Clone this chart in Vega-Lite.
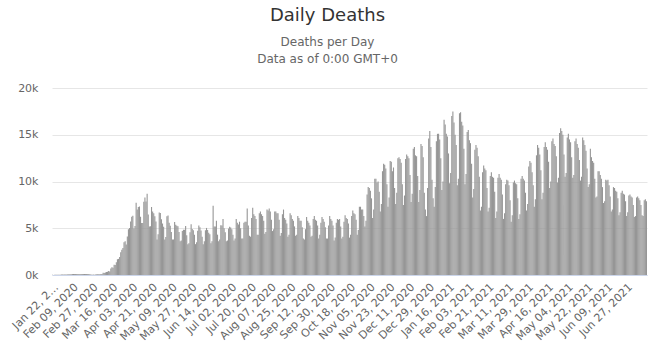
{
"$schema": "https://vega.github.io/schema/vega-lite/v6.json",
"width": 595, "height": 187,
"autosize": {"type": "none"},
"padding": {"left": 52, "top": 88, "right": 9, "bottom": 80},
"background": "white",
"title": {"text": "Daily Deaths", "subtitle": ["Deaths per Day", "Data as of 0:00 GMT+0"], "anchor": "middle", "frame": "group", "dx": -22, "offset": 17, "fontSize": 18, "font": "DejaVu Sans", "fontWeight": "normal", "color": "#333333", "subtitleFont": "DejaVu Sans", "subtitleFontSize": 12, "subtitleColor": "#666666", "subtitlePadding": 12, "subtitleLineHeight": 17},
"data": {"values": [
{"date":"Jan 22, 2020","deaths":17},{"date":"Jan 23, 2020","deaths":8},{"date":"Jan 24, 2020","deaths":16},{"date":"Jan 25, 2020","deaths":15},{"date":"Jan 26, 2020","deaths":24},{"date":"Jan 27, 2020","deaths":26},{"date":"Jan 28, 2020","deaths":26},{"date":"Jan 29, 2020","deaths":38},{"date":"Jan 30, 2020","deaths":43},{"date":"Jan 31, 2020","deaths":46},
{"date":"Feb 01, 2020","deaths":45},{"date":"Feb 02, 2020","deaths":57},{"date":"Feb 03, 2020","deaths":64},{"date":"Feb 04, 2020","deaths":66},{"date":"Feb 05, 2020","deaths":73},{"date":"Feb 06, 2020","deaths":73},{"date":"Feb 07, 2020","deaths":86},{"date":"Feb 08, 2020","deaths":89},{"date":"Feb 09, 2020","deaths":97},{"date":"Feb 10, 2020","deaths":108},
{"date":"Feb 11, 2020","deaths":97},{"date":"Feb 12, 2020","deaths":110},{"date":"Feb 13, 2020","deaths":105},{"date":"Feb 14, 2020","deaths":110},{"date":"Feb 15, 2020","deaths":108},{"date":"Feb 16, 2020","deaths":106},{"date":"Feb 17, 2020","deaths":98},{"date":"Feb 18, 2020","deaths":105},{"date":"Feb 19, 2020","deaths":100},{"date":"Feb 20, 2020","deaths":104},
{"date":"Feb 21, 2020","deaths":100},{"date":"Feb 22, 2020","deaths":99},{"date":"Feb 23, 2020","deaths":97},{"date":"Feb 24, 2020","deaths":106},{"date":"Feb 25, 2020","deaths":71},{"date":"Feb 26, 2020","deaths":52},{"date":"Feb 27, 2020","deaths":29},{"date":"Feb 28, 2020","deaths":44},{"date":"Feb 29, 2020","deaths":37},
{"date":"Mar 01, 2020","deaths":58},{"date":"Mar 02, 2020","deaths":67},{"date":"Mar 03, 2020","deaths":72},{"date":"Mar 04, 2020","deaths":84},{"date":"Mar 05, 2020","deaths":80},{"date":"Mar 06, 2020","deaths":102},{"date":"Mar 07, 2020","deaths":105},{"date":"Mar 08, 2020","deaths":228},{"date":"Mar 09, 2020","deaths":206},{"date":"Mar 10, 2020","deaths":273},
{"date":"Mar 11, 2020","deaths":331},{"date":"Mar 12, 2020","deaths":348},{"date":"Mar 13, 2020","deaths":437},{"date":"Mar 14, 2020","deaths":368},{"date":"Mar 15, 2020","deaths":687},{"date":"Mar 16, 2020","deaths":833},{"date":"Mar 17, 2020","deaths":781},{"date":"Mar 18, 2020","deaths":1088},{"date":"Mar 19, 2020","deaths":1072},{"date":"Mar 20, 2020","deaths":1366},
{"date":"Mar 21, 2020","deaths":1692},{"date":"Mar 22, 2020","deaths":1723},{"date":"Mar 23, 2020","deaths":1913},{"date":"Mar 24, 2020","deaths":2446},{"date":"Mar 25, 2020","deaths":2703},{"date":"Mar 26, 2020","deaths":2875},{"date":"Mar 27, 2020","deaths":3509},{"date":"Mar 28, 2020","deaths":3609},{"date":"Mar 29, 2020","deaths":3270},{"date":"Mar 30, 2020","deaths":4118},{"date":"Mar 31, 2020","deaths":4885},
{"date":"Apr 01, 2020","deaths":5029},{"date":"Apr 02, 2020","deaths":5735},{"date":"Apr 03, 2020","deaths":6218},{"date":"Apr 04, 2020","deaths":6339},{"date":"Apr 05, 2020","deaths":4977},{"date":"Apr 06, 2020","deaths":5244},{"date":"Apr 07, 2020","deaths":7740},{"date":"Apr 08, 2020","deaths":6993},{"date":"Apr 09, 2020","deaths":7283},{"date":"Apr 10, 2020","deaths":7336},
{"date":"Apr 11, 2020","deaths":6231},{"date":"Apr 12, 2020","deaths":5550},{"date":"Apr 13, 2020","deaths":5570},{"date":"Apr 14, 2020","deaths":7846},{"date":"Apr 15, 2020","deaths":8300},{"date":"Apr 16, 2020","deaths":7862},{"date":"Apr 17, 2020","deaths":8700},{"date":"Apr 18, 2020","deaths":6460},{"date":"Apr 19, 2020","deaths":5190},{"date":"Apr 20, 2020","deaths":5207},
{"date":"Apr 21, 2020","deaths":7274},{"date":"Apr 22, 2020","deaths":6797},{"date":"Apr 23, 2020","deaths":6609},{"date":"Apr 24, 2020","deaths":6284},{"date":"Apr 25, 2020","deaths":5713},{"date":"Apr 26, 2020","deaths":3793},{"date":"Apr 27, 2020","deaths":4348},{"date":"Apr 28, 2020","deaths":6681},{"date":"Apr 29, 2020","deaths":6619},{"date":"Apr 30, 2020","deaths":5961},
{"date":"May 01, 2020","deaths":5505},{"date":"May 02, 2020","deaths":5168},{"date":"May 03, 2020","deaths":3800},{"date":"May 04, 2020","deaths":4066},{"date":"May 05, 2020","deaths":6291},{"date":"May 06, 2020","deaths":6364},{"date":"May 07, 2020","deaths":5591},{"date":"May 08, 2020","deaths":5269},{"date":"May 09, 2020","deaths":4592},{"date":"May 10, 2020","deaths":3800},
{"date":"May 11, 2020","deaths":3800},{"date":"May 12, 2020","deaths":5677},{"date":"May 13, 2020","deaths":5366},{"date":"May 14, 2020","deaths":5277},{"date":"May 15, 2020","deaths":5221},{"date":"May 16, 2020","deaths":4589},{"date":"May 17, 2020","deaths":3600},{"date":"May 18, 2020","deaths":3700},{"date":"May 19, 2020","deaths":4709},{"date":"May 20, 2020","deaths":4840},
{"date":"May 21, 2020","deaths":4835},{"date":"May 22, 2020","deaths":5246},{"date":"May 23, 2020","deaths":4262},{"date":"May 24, 2020","deaths":3300},{"date":"May 25, 2020","deaths":3400},{"date":"May 26, 2020","deaths":4570},{"date":"May 27, 2020","deaths":5431},{"date":"May 28, 2020","deaths":4915},{"date":"May 29, 2020","deaths":4792},{"date":"May 30, 2020","deaths":4310},{"date":"May 31, 2020","deaths":3300},
{"date":"Jun 01, 2020","deaths":3500},{"date":"Jun 02, 2020","deaths":4725},{"date":"Jun 03, 2020","deaths":5307},{"date":"Jun 04, 2020","deaths":5108},{"date":"Jun 05, 2020","deaths":4759},{"date":"Jun 06, 2020","deaths":4094},{"date":"Jun 07, 2020","deaths":3300},{"date":"Jun 08, 2020","deaths":3600},{"date":"Jun 09, 2020","deaths":4777},{"date":"Jun 10, 2020","deaths":5034},
{"date":"Jun 11, 2020","deaths":4821},{"date":"Jun 12, 2020","deaths":4529},{"date":"Jun 13, 2020","deaths":4360},{"date":"Jun 14, 2020","deaths":3400},{"date":"Jun 15, 2020","deaths":3600},{"date":"Jun 16, 2020","deaths":7400},{"date":"Jun 17, 2020","deaths":5176},{"date":"Jun 18, 2020","deaths":5186},{"date":"Jun 19, 2020","deaths":5800},{"date":"Jun 20, 2020","deaths":4315},
{"date":"Jun 21, 2020","deaths":3600},{"date":"Jun 22, 2020","deaths":3800},{"date":"Jun 23, 2020","deaths":5314},{"date":"Jun 24, 2020","deaths":5282},{"date":"Jun 25, 2020","deaths":6000},{"date":"Jun 26, 2020","deaths":5005},{"date":"Jun 27, 2020","deaths":4573},{"date":"Jun 28, 2020","deaths":3600},{"date":"Jun 29, 2020","deaths":3700},{"date":"Jun 30, 2020","deaths":4968},
{"date":"Jul 01, 2020","deaths":5150},{"date":"Jul 02, 2020","deaths":5080},{"date":"Jul 03, 2020","deaths":4900},{"date":"Jul 04, 2020","deaths":4300},{"date":"Jul 05, 2020","deaths":3700},{"date":"Jul 06, 2020","deaths":3900},{"date":"Jul 07, 2020","deaths":6000},{"date":"Jul 08, 2020","deaths":5600},{"date":"Jul 09, 2020","deaths":5400},{"date":"Jul 10, 2020","deaths":5700},
{"date":"Jul 11, 2020","deaths":5000},{"date":"Jul 12, 2020","deaths":3900},{"date":"Jul 13, 2020","deaths":3900},{"date":"Jul 14, 2020","deaths":5600},{"date":"Jul 15, 2020","deaths":5700},{"date":"Jul 16, 2020","deaths":5700},{"date":"Jul 17, 2020","deaths":7100},{"date":"Jul 18, 2020","deaths":5300},{"date":"Jul 19, 2020","deaths":4200},{"date":"Jul 20, 2020","deaths":4100},
{"date":"Jul 21, 2020","deaths":6100},{"date":"Jul 22, 2020","deaths":7200},{"date":"Jul 23, 2020","deaths":6500},{"date":"Jul 24, 2020","deaths":6300},{"date":"Jul 25, 2020","deaths":6000},{"date":"Jul 26, 2020","deaths":4300},{"date":"Jul 27, 2020","deaths":4300},{"date":"Jul 28, 2020","deaths":6600},{"date":"Jul 29, 2020","deaths":6800},{"date":"Jul 30, 2020","deaths":6500},{"date":"Jul 31, 2020","deaths":6300},
{"date":"Aug 01, 2020","deaths":5800},{"date":"Aug 02, 2020","deaths":4400},{"date":"Aug 03, 2020","deaths":4600},{"date":"Aug 04, 2020","deaths":7000},{"date":"Aug 05, 2020","deaths":6900},{"date":"Aug 06, 2020","deaths":7100},{"date":"Aug 07, 2020","deaths":6800},{"date":"Aug 08, 2020","deaths":5900},{"date":"Aug 09, 2020","deaths":4700},{"date":"Aug 10, 2020","deaths":4900},
{"date":"Aug 11, 2020","deaths":6800},{"date":"Aug 12, 2020","deaths":6800},{"date":"Aug 13, 2020","deaths":6600},{"date":"Aug 14, 2020","deaths":6600},{"date":"Aug 15, 2020","deaths":5900},{"date":"Aug 16, 2020","deaths":4200},{"date":"Aug 17, 2020","deaths":4500},{"date":"Aug 18, 2020","deaths":6500},{"date":"Aug 19, 2020","deaths":7000},{"date":"Aug 20, 2020","deaths":6100},
{"date":"Aug 21, 2020","deaths":5900},{"date":"Aug 22, 2020","deaths":5500},{"date":"Aug 23, 2020","deaths":4100},{"date":"Aug 24, 2020","deaths":4300},{"date":"Aug 25, 2020","deaths":6600},{"date":"Aug 26, 2020","deaths":6400},{"date":"Aug 27, 2020","deaths":6000},{"date":"Aug 28, 2020","deaths":5800},{"date":"Aug 29, 2020","deaths":5200},{"date":"Aug 30, 2020","deaths":4200},{"date":"Aug 31, 2020","deaths":4300},
{"date":"Sep 01, 2020","deaths":6300},{"date":"Sep 02, 2020","deaths":6100},{"date":"Sep 03, 2020","deaths":5800},{"date":"Sep 04, 2020","deaths":5800},{"date":"Sep 05, 2020","deaths":5100},{"date":"Sep 06, 2020","deaths":3900},{"date":"Sep 07, 2020","deaths":3800},{"date":"Sep 08, 2020","deaths":4900},{"date":"Sep 09, 2020","deaths":6200},{"date":"Sep 10, 2020","deaths":5800},
{"date":"Sep 11, 2020","deaths":5600},{"date":"Sep 12, 2020","deaths":5300},{"date":"Sep 13, 2020","deaths":4100},{"date":"Sep 14, 2020","deaths":4200},{"date":"Sep 15, 2020","deaths":6000},{"date":"Sep 16, 2020","deaths":6300},{"date":"Sep 17, 2020","deaths":5900},{"date":"Sep 18, 2020","deaths":5800},{"date":"Sep 19, 2020","deaths":5300},{"date":"Sep 20, 2020","deaths":3900},
{"date":"Sep 21, 2020","deaths":4300},{"date":"Sep 22, 2020","deaths":5600},{"date":"Sep 23, 2020","deaths":6200},{"date":"Sep 24, 2020","deaths":6000},{"date":"Sep 25, 2020","deaths":5700},{"date":"Sep 26, 2020","deaths":5100},{"date":"Sep 27, 2020","deaths":3900},{"date":"Sep 28, 2020","deaths":3900},{"date":"Sep 29, 2020","deaths":5300},{"date":"Sep 30, 2020","deaths":6300},
{"date":"Oct 01, 2020","deaths":6000},{"date":"Oct 02, 2020","deaths":5800},{"date":"Oct 03, 2020","deaths":5300},{"date":"Oct 04, 2020","deaths":3700},{"date":"Oct 05, 2020","deaths":4000},{"date":"Oct 06, 2020","deaths":5600},{"date":"Oct 07, 2020","deaths":6000},{"date":"Oct 08, 2020","deaths":5900},{"date":"Oct 09, 2020","deaths":6000},{"date":"Oct 10, 2020","deaths":5200},
{"date":"Oct 11, 2020","deaths":3900},{"date":"Oct 12, 2020","deaths":4100},{"date":"Oct 13, 2020","deaths":5700},{"date":"Oct 14, 2020","deaths":6400},{"date":"Oct 15, 2020","deaths":6100},{"date":"Oct 16, 2020","deaths":6000},{"date":"Oct 17, 2020","deaths":5500},{"date":"Oct 18, 2020","deaths":4000},{"date":"Oct 19, 2020","deaths":4300},{"date":"Oct 20, 2020","deaths":6300},
{"date":"Oct 21, 2020","deaths":6900},{"date":"Oct 22, 2020","deaths":6600},{"date":"Oct 23, 2020","deaths":6500},{"date":"Oct 24, 2020","deaths":5900},{"date":"Oct 25, 2020","deaths":4300},{"date":"Oct 26, 2020","deaths":4800},{"date":"Oct 27, 2020","deaths":7300},{"date":"Oct 28, 2020","deaths":7300},{"date":"Oct 29, 2020","deaths":7000},{"date":"Oct 30, 2020","deaths":7000},{"date":"Oct 31, 2020","deaths":6300},
{"date":"Nov 01, 2020","deaths":5200},{"date":"Nov 02, 2020","deaths":5800},{"date":"Nov 03, 2020","deaths":8600},{"date":"Nov 04, 2020","deaths":9400},{"date":"Nov 05, 2020","deaths":9300},{"date":"Nov 06, 2020","deaths":9000},{"date":"Nov 07, 2020","deaths":8200},{"date":"Nov 08, 2020","deaths":6100},{"date":"Nov 09, 2020","deaths":7000},{"date":"Nov 10, 2020","deaths":10300},
{"date":"Nov 11, 2020","deaths":10300},{"date":"Nov 12, 2020","deaths":9900},{"date":"Nov 13, 2020","deaths":10000},{"date":"Nov 14, 2020","deaths":8900},{"date":"Nov 15, 2020","deaths":6800},{"date":"Nov 16, 2020","deaths":7600},{"date":"Nov 17, 2020","deaths":11100},{"date":"Nov 18, 2020","deaths":11900},{"date":"Nov 19, 2020","deaths":11800},{"date":"Nov 20, 2020","deaths":11400},
{"date":"Nov 21, 2020","deaths":9700},{"date":"Nov 22, 2020","deaths":7300},{"date":"Nov 23, 2020","deaths":8300},{"date":"Nov 24, 2020","deaths":12200},{"date":"Nov 25, 2020","deaths":12100},{"date":"Nov 26, 2020","deaths":11100},{"date":"Nov 27, 2020","deaths":11500},{"date":"Nov 28, 2020","deaths":9300},{"date":"Nov 29, 2020","deaths":7600},{"date":"Nov 30, 2020","deaths":8800},
{"date":"Dec 01, 2020","deaths":12500},{"date":"Dec 02, 2020","deaths":12600},{"date":"Dec 03, 2020","deaths":12400},{"date":"Dec 04, 2020","deaths":12000},{"date":"Dec 05, 2020","deaths":9700},{"date":"Dec 06, 2020","deaths":7500},{"date":"Dec 07, 2020","deaths":8500},{"date":"Dec 08, 2020","deaths":12400},{"date":"Dec 09, 2020","deaths":12900},{"date":"Dec 10, 2020","deaths":12700},
{"date":"Dec 11, 2020","deaths":12500},{"date":"Dec 12, 2020","deaths":10700},{"date":"Dec 13, 2020","deaths":7800},{"date":"Dec 14, 2020","deaths":8700},{"date":"Dec 15, 2020","deaths":13500},{"date":"Dec 16, 2020","deaths":13700},{"date":"Dec 17, 2020","deaths":12800},{"date":"Dec 18, 2020","deaths":12700},{"date":"Dec 19, 2020","deaths":10600},{"date":"Dec 20, 2020","deaths":7800},
{"date":"Dec 21, 2020","deaths":9100},{"date":"Dec 22, 2020","deaths":14000},{"date":"Dec 23, 2020","deaths":13800},{"date":"Dec 24, 2020","deaths":12600},{"date":"Dec 25, 2020","deaths":8800},{"date":"Dec 26, 2020","deaths":7000},{"date":"Dec 27, 2020","deaths":6300},{"date":"Dec 28, 2020","deaths":9300},{"date":"Dec 29, 2020","deaths":14600},{"date":"Dec 30, 2020","deaths":15400},{"date":"Dec 31, 2020","deaths":13700},
{"date":"Jan 01, 2021","deaths":10200},{"date":"Jan 02, 2021","deaths":8200},{"date":"Jan 03, 2021","deaths":7300},{"date":"Jan 04, 2021","deaths":9400},{"date":"Jan 05, 2021","deaths":14300},{"date":"Jan 06, 2021","deaths":15100},{"date":"Jan 07, 2021","deaths":15100},{"date":"Jan 08, 2021","deaths":14500},{"date":"Jan 09, 2021","deaths":12500},{"date":"Jan 10, 2021","deaths":9100},
{"date":"Jan 11, 2021","deaths":10000},{"date":"Jan 12, 2021","deaths":16600},{"date":"Jan 13, 2021","deaths":16100},{"date":"Jan 14, 2021","deaths":15100},{"date":"Jan 15, 2021","deaths":14800},{"date":"Jan 16, 2021","deaths":13000},{"date":"Jan 17, 2021","deaths":9800},{"date":"Jan 18, 2021","deaths":10900},{"date":"Jan 19, 2021","deaths":17000},{"date":"Jan 20, 2021","deaths":17500},
{"date":"Jan 21, 2021","deaths":16300},{"date":"Jan 22, 2021","deaths":15000},{"date":"Jan 23, 2021","deaths":13900},{"date":"Jan 24, 2021","deaths":9600},{"date":"Jan 25, 2021","deaths":10300},{"date":"Jan 26, 2021","deaths":17300},{"date":"Jan 27, 2021","deaths":17400},{"date":"Jan 28, 2021","deaths":16400},{"date":"Jan 29, 2021","deaths":16000},{"date":"Jan 30, 2021","deaths":13500},{"date":"Jan 31, 2021","deaths":9700},
{"date":"Feb 01, 2021","deaths":10800},{"date":"Feb 02, 2021","deaths":15300},{"date":"Feb 03, 2021","deaths":15500},{"date":"Feb 04, 2021","deaths":14400},{"date":"Feb 05, 2021","deaths":14100},{"date":"Feb 06, 2021","deaths":11900},{"date":"Feb 07, 2021","deaths":8300},{"date":"Feb 08, 2021","deaths":9200},{"date":"Feb 09, 2021","deaths":13400},{"date":"Feb 10, 2021","deaths":13900},
{"date":"Feb 11, 2021","deaths":13600},{"date":"Feb 12, 2021","deaths":12700},{"date":"Feb 13, 2021","deaths":10500},{"date":"Feb 14, 2021","deaths":6900},{"date":"Feb 15, 2021","deaths":7300},{"date":"Feb 16, 2021","deaths":11000},{"date":"Feb 17, 2021","deaths":11700},{"date":"Feb 18, 2021","deaths":11400},{"date":"Feb 19, 2021","deaths":11200},{"date":"Feb 20, 2021","deaths":9300},
{"date":"Feb 21, 2021","deaths":6800},{"date":"Feb 22, 2021","deaths":7200},{"date":"Feb 23, 2021","deaths":10600},{"date":"Feb 24, 2021","deaths":11000},{"date":"Feb 25, 2021","deaths":10500},{"date":"Feb 26, 2021","deaths":10400},{"date":"Feb 27, 2021","deaths":8900},{"date":"Feb 28, 2021","deaths":6100},
{"date":"Mar 01, 2021","deaths":6800},{"date":"Mar 02, 2021","deaths":10400},{"date":"Mar 03, 2021","deaths":10800},{"date":"Mar 04, 2021","deaths":10400},{"date":"Mar 05, 2021","deaths":10200},{"date":"Mar 06, 2021","deaths":8600},{"date":"Mar 07, 2021","deaths":6000},{"date":"Mar 08, 2021","deaths":6600},{"date":"Mar 09, 2021","deaths":9700},{"date":"Mar 10, 2021","deaths":10200},
{"date":"Mar 11, 2021","deaths":10100},{"date":"Mar 12, 2021","deaths":9600},{"date":"Mar 13, 2021","deaths":8000},{"date":"Mar 14, 2021","deaths":5700},{"date":"Mar 15, 2021","deaths":6400},{"date":"Mar 16, 2021","deaths":9900},{"date":"Mar 17, 2021","deaths":10100},{"date":"Mar 18, 2021","deaths":9800},{"date":"Mar 19, 2021","deaths":9700},{"date":"Mar 20, 2021","deaths":8200},
{"date":"Mar 21, 2021","deaths":6000},{"date":"Mar 22, 2021","deaths":6500},{"date":"Mar 23, 2021","deaths":10300},{"date":"Mar 24, 2021","deaths":10600},{"date":"Mar 25, 2021","deaths":10300},{"date":"Mar 26, 2021","deaths":10100},{"date":"Mar 27, 2021","deaths":8800},{"date":"Mar 28, 2021","deaths":6900},{"date":"Mar 29, 2021","deaths":7600},{"date":"Mar 30, 2021","deaths":11600},{"date":"Mar 31, 2021","deaths":12200},
{"date":"Apr 01, 2021","deaths":12000},{"date":"Apr 02, 2021","deaths":11000},{"date":"Apr 03, 2021","deaths":9600},{"date":"Apr 04, 2021","deaths":7300},{"date":"Apr 05, 2021","deaths":8100},{"date":"Apr 06, 2021","deaths":12800},{"date":"Apr 07, 2021","deaths":13900},{"date":"Apr 08, 2021","deaths":13600},{"date":"Apr 09, 2021","deaths":12900},{"date":"Apr 10, 2021","deaths":11200},
{"date":"Apr 11, 2021","deaths":8100},{"date":"Apr 12, 2021","deaths":8800},{"date":"Apr 13, 2021","deaths":13700},{"date":"Apr 14, 2021","deaths":14200},{"date":"Apr 15, 2021","deaths":13700},{"date":"Apr 16, 2021","deaths":13400},{"date":"Apr 17, 2021","deaths":12100},{"date":"Apr 18, 2021","deaths":9300},{"date":"Apr 19, 2021","deaths":10000},{"date":"Apr 20, 2021","deaths":14300},
{"date":"Apr 21, 2021","deaths":14600},{"date":"Apr 22, 2021","deaths":14000},{"date":"Apr 23, 2021","deaths":13800},{"date":"Apr 24, 2021","deaths":12700},{"date":"Apr 25, 2021","deaths":9900},{"date":"Apr 26, 2021","deaths":10400},{"date":"Apr 27, 2021","deaths":15200},{"date":"Apr 28, 2021","deaths":15700},{"date":"Apr 29, 2021","deaths":15400},{"date":"Apr 30, 2021","deaths":15000},
{"date":"May 01, 2021","deaths":12900},{"date":"May 02, 2021","deaths":10500},{"date":"May 03, 2021","deaths":10900},{"date":"May 04, 2021","deaths":14700},{"date":"May 05, 2021","deaths":15100},{"date":"May 06, 2021","deaths":14500},{"date":"May 07, 2021","deaths":14200},{"date":"May 08, 2021","deaths":12600},{"date":"May 09, 2021","deaths":10400},{"date":"May 10, 2021","deaths":10700},
{"date":"May 11, 2021","deaths":14300},{"date":"May 12, 2021","deaths":14600},{"date":"May 13, 2021","deaths":14000},{"date":"May 14, 2021","deaths":13600},{"date":"May 15, 2021","deaths":12300},{"date":"May 16, 2021","deaths":10100},{"date":"May 17, 2021","deaths":10500},{"date":"May 18, 2021","deaths":14700},{"date":"May 19, 2021","deaths":14400},{"date":"May 20, 2021","deaths":13900},
{"date":"May 21, 2021","deaths":13300},{"date":"May 22, 2021","deaths":11400},{"date":"May 23, 2021","deaths":9400},{"date":"May 24, 2021","deaths":9700},{"date":"May 25, 2021","deaths":13500},{"date":"May 26, 2021","deaths":12600},{"date":"May 27, 2021","deaths":12200},{"date":"May 28, 2021","deaths":12000},{"date":"May 29, 2021","deaths":10300},{"date":"May 30, 2021","deaths":8300},{"date":"May 31, 2021","deaths":8400},
{"date":"Jun 01, 2021","deaths":11100},{"date":"Jun 02, 2021","deaths":11100},{"date":"Jun 03, 2021","deaths":10700},{"date":"Jun 04, 2021","deaths":10300},{"date":"Jun 05, 2021","deaths":9400},{"date":"Jun 06, 2021","deaths":7700},{"date":"Jun 07, 2021","deaths":7900},{"date":"Jun 08, 2021","deaths":10200},{"date":"Jun 09, 2021","deaths":10100},{"date":"Jun 10, 2021","deaths":10200},
{"date":"Jun 11, 2021","deaths":9600},{"date":"Jun 12, 2021","deaths":8400},{"date":"Jun 13, 2021","deaths":6800},{"date":"Jun 14, 2021","deaths":7000},{"date":"Jun 15, 2021","deaths":9400},{"date":"Jun 16, 2021","deaths":9300},{"date":"Jun 17, 2021","deaths":9000},{"date":"Jun 18, 2021","deaths":8900},{"date":"Jun 19, 2021","deaths":8200},{"date":"Jun 20, 2021","deaths":6400},
{"date":"Jun 21, 2021","deaths":6700},{"date":"Jun 22, 2021","deaths":8800},{"date":"Jun 23, 2021","deaths":9000},{"date":"Jun 24, 2021","deaths":8700},{"date":"Jun 25, 2021","deaths":8600},{"date":"Jun 26, 2021","deaths":7900},{"date":"Jun 27, 2021","deaths":6300},{"date":"Jun 28, 2021","deaths":6700},{"date":"Jun 29, 2021","deaths":8500},{"date":"Jun 30, 2021","deaths":8600},
{"date":"Jul 01, 2021","deaths":8400},{"date":"Jul 02, 2021","deaths":8300},{"date":"Jul 03, 2021","deaths":7500},{"date":"Jul 04, 2021","deaths":6200},{"date":"Jul 05, 2021","deaths":6300},{"date":"Jul 06, 2021","deaths":8300},{"date":"Jul 07, 2021","deaths":8400},{"date":"Jul 08, 2021","deaths":8200},{"date":"Jul 09, 2021","deaths":8000},{"date":"Jul 10, 2021","deaths":7500},
{"date":"Jul 11, 2021","deaths":6400},{"date":"Jul 12, 2021","deaths":6300},{"date":"Jul 13, 2021","deaths":8000},{"date":"Jul 14, 2021","deaths":8100},{"date":"Jul 15, 2021","deaths":7900}
]},
"mark": {"type": "bar", "color": "#969696"},
"encoding": {
  "x": {"field": "date", "type": "ordinal", "sort": null, "scale": {"paddingInner": 0, "paddingOuter": 0},
    "axis": {"values": ["Jan 22, 2020","Feb 09, 2020","Feb 27, 2020","Mar 16, 2020","Apr 03, 2020","Apr 21, 2020","May 09, 2020","May 27, 2020","Jun 14, 2020","Jul 02, 2020","Jul 20, 2020","Aug 07, 2020","Aug 25, 2020","Sep 12, 2020","Sep 30, 2020","Oct 18, 2020","Nov 05, 2020","Nov 23, 2020","Dec 11, 2020","Dec 29, 2020","Jan 16, 2021","Feb 03, 2021","Feb 21, 2021","Mar 11, 2021","Mar 29, 2021","Apr 16, 2021","May 04, 2021","May 22, 2021","Jun 09, 2021","Jun 27, 2021"],
      "title": null, "labelAngle": -45, "labelFont": "DejaVu Sans", "labelFontSize": 11, "labelColor": "#666666", "domainColor": "#ccd6eb", "ticks": false, "labelPadding": 6,
      "labelExpr": "datum.label == 'Jan 22, 2020' ? 'Jan 22, 2…' : datum.label"}},
  "y": {"field": "deaths", "type": "quantitative", "scale": {"domain": [0, 20000]},
    "axis": {"values": [0, 5000, 10000, 15000, 20000], "format": "~s", "title": null, "domain": false, "ticks": false, "gridColor": "#e6e6e6", "labelPadding": 14, "labelColor": "#666666", "labelFont": "DejaVu Sans", "labelFontSize": 11}}
},
"config": {"view": {"stroke": null}}
}
